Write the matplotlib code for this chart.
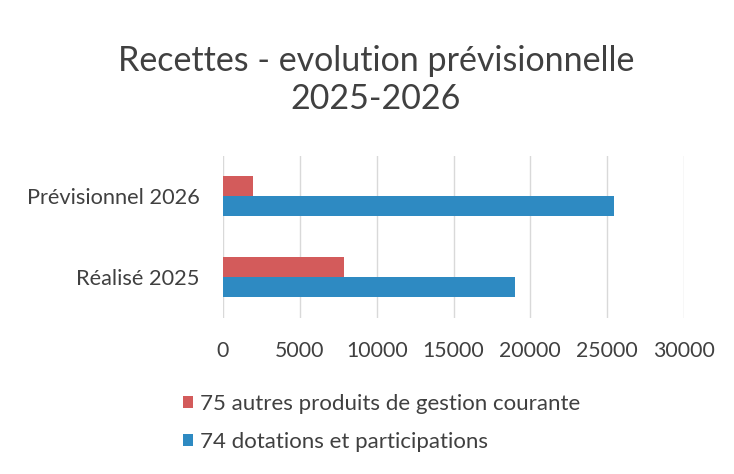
import matplotlib.pyplot as plt

categories = ["Réalisé 2025", "Prévisionnel 2026"]
autres_produits = [7900, 1950]
dotations = [19000, 25450]
x_ticks = [0, 5000, 10000, 15000, 20000, 25000, 30000]

plt.rcParams["font.family"] = ["Lato", "DejaVu Sans"]
text_color = "#404040"

fig = plt.figure(figsize=(7.34, 4.74), dpi=100)
ax = fig.add_axes([223 / 734, 1 - 317.5 / 474, (684 - 223) / 734, (317.5 - 155.5) / 474])

h = 0.253
ypos = list(range(len(categories)))
b75 = ax.barh([y + h / 2 for y in ypos], autres_produits, height=h,
              color="#d35b5b", label="75 autres produits de gestion courante", zorder=2)
b74 = ax.barh([y - h / 2 for y in ypos], dotations, height=h,
              color="#2e8ac2", label="74 dotations et participations", zorder=2)

ax.set_xlim(0, 30000)
ax.set_ylim(-0.5, 1.5)
ax.set_xticks(x_ticks)
ax.set_xticklabels([str(t) for t in x_ticks])
ax.set_yticks(ypos)
ax.set_yticklabels(categories)
ax.grid(axis="x", color="#d9d9d9", linewidth=1, zorder=0)
for s in ax.spines.values():
    s.set_visible(False)
ax.tick_params(axis="x", length=0, labelsize=15.3, colors=text_color, pad=17)
ax.tick_params(axis="y", length=0, labelsize=15.7, colors=text_color, pad=17)

fig.text(376 / 734, 1 - 80 / 474, "Recettes - evolution prévisionnelle\n2025-2026",
         ha="center", va="center", fontsize=24.5, color=text_color, linespacing=1.25)

fig.legend(handles=[b75, b74], loc="upper left", bbox_to_anchor=(163 / 734, 1 - 374 / 474),
           frameon=False, fontsize=16, labelcolor=text_color,
           handlelength=0.45, handleheight=0.45, handletextpad=0.3, labelspacing=0.82)

fig.savefig("out.png", dpi=100)
